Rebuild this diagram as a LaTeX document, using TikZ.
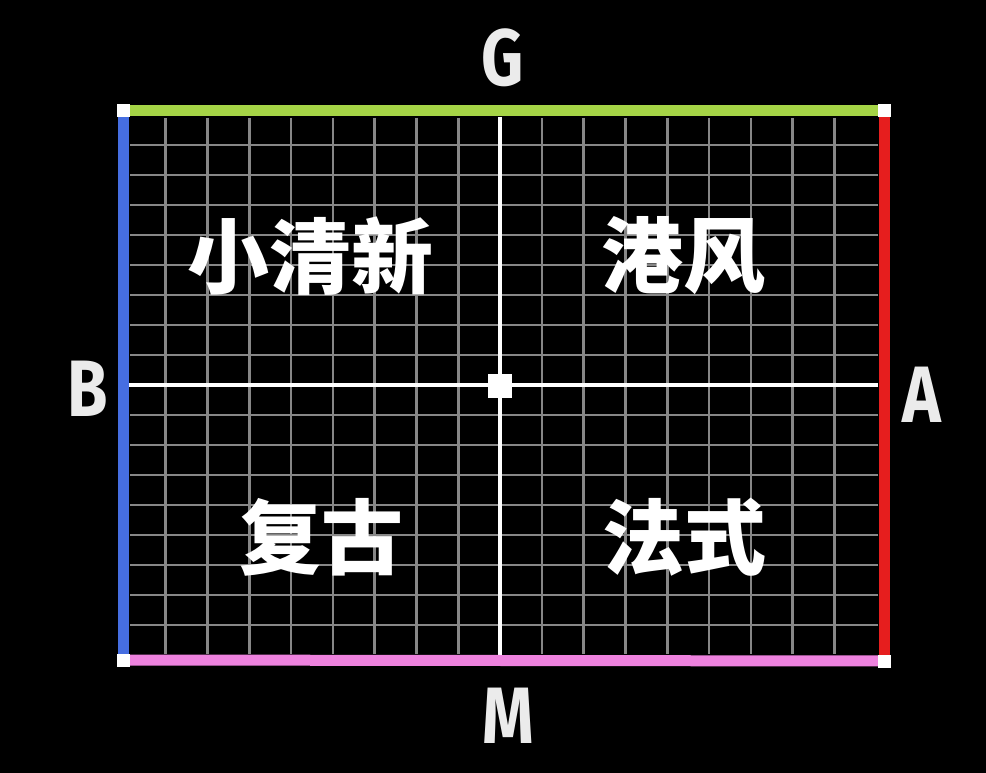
\documentclass[tikz,border=0pt]{standalone}
\usepackage{fontspec}
\setmainfont{Fira Sans}
\newfontfamily\condfont[FakeStretch=0.82]{Fira Sans}
\newfontfamily\cjk{Noto Sans CJK SC}
\definecolor{gline}{RGB}{135,135,135}
\definecolor{gedge}{RGB}{165,212,70}
\definecolor{bedge}{RGB}{70,110,225}
\definecolor{redge}{RGB}{230,30,30}
\definecolor{pedge}{RGB}{238,130,222}
\begin{document}
\begin{tikzpicture}[x=1pt,y=-1pt,
  gridline/.style={draw=gline, line width=2.6pt},
  axisline/.style={draw=white, line width=4pt},
  edgeline/.style={line width=11pt},
  corner/.style={fill=white, draw=none, minimum size=13pt, inner sep=0pt},
  letter/.style={text=white!92!black, inner sep=0pt, font=\condfont\bfseries\fontsize{80}{80}\selectfont},
  cjklabel/.style={text=white, fill=black, inner sep=2pt, font=\cjk\bfseries\fontsize{82}{82}\selectfont}]
\fill[black] (0,0) rectangle (986,773);
\useasboundingbox (0,0) rectangle (986,773);
% grid
\foreach \k in {-8,...,-1,1,2,...,8}
  \draw[gridline] ({500+41.8*\k},118) -- ({500+41.8*\k},654);
\foreach \k in {-8,...,-1,1,2,...,8}
  \draw[gridline] (130,{385+30*\k}) -- (878,{385+30*\k});
% axes
\coordinate (axL) at (129,385);
\coordinate (axR) at (878,385);
\coordinate (axT) at (500,117);
\coordinate (axB) at (500,655);
\draw[axisline] (axL) -- (axR);
\draw[axisline] (axT) -- (axB);
\node[fill=white, minimum size=24pt, inner sep=0pt] (ctr) at (500,386) {};
% border
\coordinate (TL) at (123,111);
\coordinate (TR) at (884,111);
\coordinate (BL) at (123,660);
\coordinate (BR) at (884,661);
\draw[edgeline, gedge] (TL) -- (TR);
\draw[edgeline, bedge] (TL) -- (BL);
\draw[edgeline, redge] (TR) -- (BR);
\draw[edgeline, pedge] (BL) -- (BR);
\node[corner] (cTL) at (TL) {};
\node[corner] (cTR) at (TR) {};
\node[corner] (cBL) at (BL) {};
\node[corner] (cBR) at (BR) {};
% letters
\node[letter] (G) at (503,58) {G};
\node[letter] (B) at (88,389) {B};
\node[letter] (A) at (922,395) {A};
\node[letter] (M) at (508,716) {M};
% quadrant labels
\node[cjklabel, fill=none] (q1) at (310,256) {小清新};
\node[cjklabel, fill=none] (q2) at (683,256) {港风};
\node[cjklabel, fill=none] (q3) at (321,537) {复古};
\node[cjklabel, fill=none] (q4) at (684,537) {法式};
\end{tikzpicture}
\end{document}
